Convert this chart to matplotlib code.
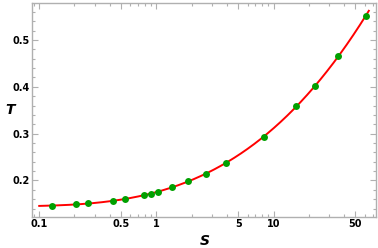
import numpy as np
import matplotlib
matplotlib.use("Agg")
import matplotlib.pyplot as plt
from matplotlib.ticker import FixedLocator, FixedFormatter, NullFormatter

# data
s_vals = [0.128, 0.207, 0.263, 0.424, 0.54, 0.787, 0.897, 1.035, 1.37, 1.87,
          2.66, 3.93, 8.26, 15.5, 22.7, 35.7, 61.0]
T_vals = [0.146, 0.149, 0.151, 0.1565, 0.161, 0.1686, 0.1714, 0.1758, 0.1857, 0.1986,
          0.2143, 0.238, 0.293, 0.358, 0.4025, 0.465, 0.551]
x_ticks = [0.1, 0.5, 1, 5, 10, 50]
x_tick_labels = ["0.1", "0.5", "1", "5", "10", "50"]
y_ticks = [0.2, 0.3, 0.4, 0.5]
y_tick_labels = ["0.2", "0.3", "0.4", "0.5"]

s = np.array(s_vals)
T = np.array(T_vals)
coef = np.polyfit(np.log10(s), T, 3)
sg = np.logspace(-1, np.log10(65), 300)
Tg = np.polyval(coef, np.log10(sg))

fig = plt.figure(figsize=(3.78, 2.48), dpi=100)
ax = fig.add_axes([0.085, 0.127, 0.91, 0.861])
ax.plot(sg, Tg, color="#ff0000", lw=1.4, zorder=2)
ax.plot(s, T, "o", color="#00a000", ms=5.0, mec="none", zorder=3)
ax.set_xscale("log")
ax.set_xlim(0.087, 75)
ax.set_ylim(0.123, 0.579)

frame_col = "#b0b0b0"
for sp in ax.spines.values():
    sp.set_color(frame_col)
    sp.set_linewidth(1.0)

minors = [m * 10.0 ** e for e in (-2, -1, 0, 1) for m in range(1, 10)]
minors = [v for v in minors if v not in x_ticks]
ax.xaxis.set_major_locator(FixedLocator(x_ticks))
ax.xaxis.set_major_formatter(FixedFormatter(x_tick_labels))
ax.xaxis.set_minor_locator(FixedLocator(minors))
ax.xaxis.set_minor_formatter(NullFormatter())
ax.yaxis.set_major_locator(FixedLocator(y_ticks))
ax.yaxis.set_major_formatter(FixedFormatter(y_tick_labels))
ax.yaxis.set_minor_locator(FixedLocator(list(np.arange(0.12, 0.58, 0.02))))

ax.tick_params(which="both", direction="in", top=True, right=True, color=frame_col,
               width=0.8)
ax.tick_params(which="major", length=4, labelsize=7, pad=2)
ax.tick_params(which="minor", length=2)
for lab in ax.get_xticklabels() + ax.get_yticklabels():
    lab.set_fontweight("bold")

fig.text(0.013, 0.555, "T", fontsize=10, fontweight="bold", fontstyle="italic",
         ha="left", va="center")
fig.text(0.542, 0.027, "S", fontsize=10, fontweight="bold", fontstyle="italic",
         ha="center", va="center")

fig.savefig("out.png", dpi=100)
